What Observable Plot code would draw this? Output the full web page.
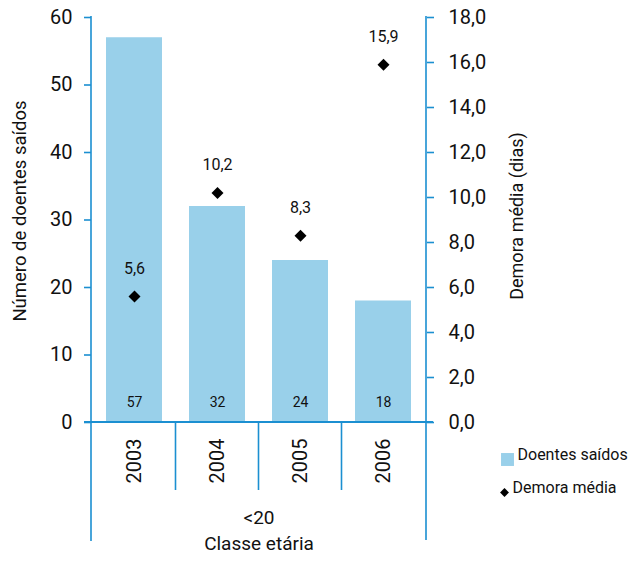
<!DOCTYPE html>
<html>
<head>
<meta charset="utf-8">
<script src="https://cdn.jsdelivr.net/npm/d3@7"></script>
<script src="https://cdn.jsdelivr.net/npm/@observablehq/plot@0.6"></script>
<style>
  html, body { margin: 0; padding: 0; background: #fff; }
  #chart { width: 637px; height: 562px; }
</style>
</head>
<body>
<div id="chart"></div>
<script>
// ---- data ----
const years = ["2003", "2004", "2005", "2006"];
const doentesSaidos = [57, 32, 24, 18];
const demoraMedia = [5.6, 10.2, 8.3, 15.9];
const leftTicks = [0, 10, 20, 30, 40, 50, 60];
const rightTicks = [0, 2, 4, 6, 8, 10, 12, 14, 16, 18];
const groupLabel = "<20";
const xTitle = "Classe etária";
const leftTitle = "Número de doentes saídos";
const rightTitle = "Demora média (dias)";
const legendLabels = ["Doentes saídos", "Demora média"];

// ---- derived ----
const leftMax = 60, rightMax = 18;
const k = leftMax / rightMax;
const fmt = v => v.toFixed(1).replace(".", ",");
const rows = years.map((y, i) => ({year: y, n: doentesSaidos[i], d: demoraMedia[i]}));

const blue = "#1b8fd1";
const barColor = "#99d0ea";
const ink = "#111";

function decor(index, scales, values, dims) {
  const {width, height, marginLeft, marginRight, marginTop, marginBottom} = dims;
  const x = scales.x;
  const bw = x.bandwidth ? x.bandwidth() : 0;
  const xl = marginLeft, xr = width - marginRight, yb = height - marginBottom;
  const g = d3.create("svg:g").attr("stroke", blue).attr("fill", "none");
  // left axis line (extends down past the category labels)
  g.append("line").attr("x1", xl).attr("x2", xl).attr("y1", marginTop - 1).attr("y2", height - 21).attr("stroke-width", 1.6);
  // right axis line
  g.append("line").attr("x1", xr).attr("x2", xr).attr("y1", marginTop - 1).attr("y2", height - 22).attr("stroke-width", 1.6);
  // baseline
  g.append("line").attr("x1", xl - 7).attr("x2", xr + 7).attr("y1", yb).attr("y2", yb).attr("stroke-width", 2);
  // category separators
  for (let i = 1; i < years.length; i++) {
    const bx = (x(years[i - 1]) + x(years[i])) / 2 + bw / 2;
    g.append("line").attr("x1", bx).attr("x2", bx).attr("y1", yb).attr("y2", yb + 68).attr("stroke-width", 1.6);
  }
  return g.node();
}

const chart = Plot.plot({
  width: 637,
  height: 562,
  marginLeft: 91,
  marginRight: 211,
  marginTop: 17,
  marginBottom: 140,
  style: {fontFamily: "Roboto, 'DejaVu Sans', sans-serif", color: ink, background: "#fff"},
  x: {type: "band", domain: years, paddingInner: 0.33, paddingOuter: 0.165, axis: null},
  y: {domain: [0, leftMax], axis: null},
  marks: [
    Plot.barY(rows, {x: "year", y: "n", fill: barColor}),
    decor,
    Plot.axisY(leftTicks, {anchor: "left", tickSize: 7, tickPadding: 12, fontSize: 20, label: null, stroke: blue, strokeWidth: 1.6, fill: ink, tickFormat: d => String(d)}),
    Plot.axisY(rightTicks.map(v => v * k), {anchor: "right", tickSize: 7, tickPadding: 15, fontSize: 20, label: null, stroke: blue, strokeWidth: 1.6, fill: ink, tickFormat: d => fmt(d / k)}),
    Plot.axisX(years, {anchor: "bottom", tickSize: 0, tickPadding: 16, tickRotate: -90, fontSize: 20, label: null, fill: ink}),
    Plot.text(rows, {x: "year", y: 0, text: d => String(d.n), dy: -20, fontSize: 14, fill: ink}),
    Plot.dot(rows, {x: "year", y: d => d.d * k, symbol: "diamond2", r: 5.4, fill: "#000", stroke: null}),
    Plot.text(rows, {x: "year", y: d => d.d * k, text: d => fmt(d.d), dy: -28, fontSize: 16, fill: ink}),
    Plot.text([groupLabel], {frameAnchor: "bottom", dy: 101, fontSize: 19, fill: ink}),
    Plot.text([xTitle], {frameAnchor: "bottom", dy: 127, fontSize: 19, fill: ink}),
    Plot.text([leftTitle], {frameAnchor: "left", textAnchor: "middle", rotate: -90, dx: -71, dy: -9, fontSize: 18.5, fill: ink}),
    Plot.text([rightTitle], {frameAnchor: "right", textAnchor: "middle", rotate: -90, dx: 91, dy: -4, fontSize: 18, fill: ink}),
    // legend
    Plot.dot([legendLabels[0]], {frameAnchor: "bottom-right", dx: 81, dy: 37, symbol: "square", r: 7.3, fill: barColor, stroke: null}),
    Plot.text([legendLabels[0]], {frameAnchor: "bottom-right", dx: 91, dy: 37, textAnchor: "start", fontSize: 16, fill: ink}),
    Plot.dot([legendLabels[1]], {frameAnchor: "bottom-right", dx: 78, dy: 70, symbol: "diamond2", r: 4, fill: "#000", stroke: null}),
    Plot.text([legendLabels[1]], {frameAnchor: "bottom-right", dx: 86, dy: 70, textAnchor: "start", fontSize: 16, fill: ink})
  ]
});
document.getElementById("chart").appendChild(chart);
</script>
</body>
</html>
